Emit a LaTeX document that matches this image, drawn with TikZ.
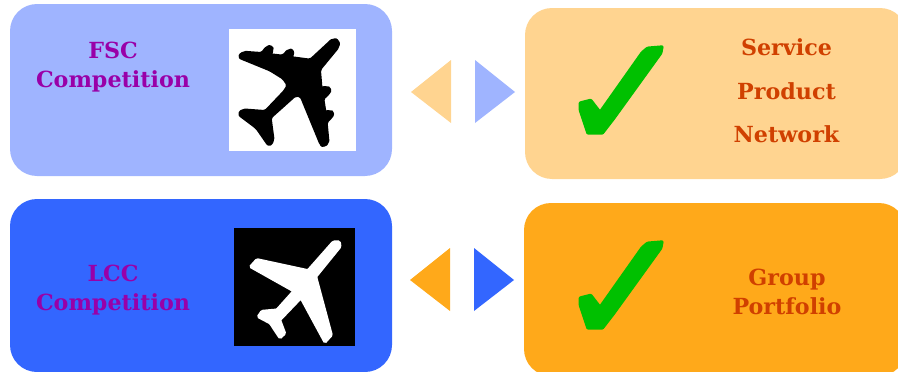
\documentclass[tikz,border=0pt]{standalone}
\usepackage{fontspec}
\setmainfont{DejaVu Serif}
\usetikzlibrary{positioning}
\definecolor{fscblue}{HTML}{9FB4FF}
\definecolor{lccblue}{HTML}{3366FF}
\definecolor{paleorange}{HTML}{FFD490}
\definecolor{deeporange}{HTML}{FFA91A}
\definecolor{compurple}{HTML}{9900A8}
\definecolor{gainred}{HTML}{D04000}
\definecolor{tickgreen}{HTML}{00C000}
\begin{document}
\begin{tikzpicture}[x=1pt,y=-1pt,
   panel/.style={rounded corners=27pt,minimum width=382pt,inner sep=0pt},
   rivals/.style={text=compurple,font=\fontsize{22.2}{29}\selectfont\bfseries,align=center},
   gains/.style={text=gainred,font=\fontsize{22.2}{43.5}\selectfont\bfseries,align=center},
   photo/.style={inner sep=0pt}]
  \useasboundingbox (0,0) rectangle (898,372);
  \node[panel,fill=fscblue,minimum height=172pt] (fsc) at (201,90) {};
  \node[panel,fill=paleorange,minimum height=171pt] (fscgain) at (716,93.5) {};
  \node[panel,fill=lccblue,minimum height=173pt] (lcc) at (201,285.5) {};
  \node[panel,fill=deeporange,minimum height=173pt] (lccgain) at (715,289.5) {};
  \node[rivals] (fsclabel) at (113,67.5) {FSC\\Competition};
  \node[rivals] (lcclabel) at (113,290.5) {LCC\\Competition};
  \node[gains] (fsclist) at (786.5,91) {Service\\Product\\Network};
  \node[gains,font=\fontsize{22.2}{29}\selectfont\bfseries] (lcclist) at (787,292) {Group\\Portfolio};
  \node[photo,fill=white,minimum width=127pt,minimum height=122pt] (fscphoto) at (292.5,90) {};
  \node[photo,fill=black,minimum width=121pt,minimum height=118pt] (lccphoto) at (294.5,287) {};
  % the arrows between the panels
  \fill[paleorange] (411,92) -- (451,60) -- (451,123) -- cycle;
  \fill[fscblue] (515,92) -- (475,60) -- (475,123) -- cycle;
  \fill[deeporange] (410,280) -- (450,248) -- (450,311) -- cycle;
  \fill[lccblue] (514,280) -- (474,248) -- (474,311) -- cycle;
  % planes
  \begin{scope}[shift={(220,20)},x=0.3333pt,y=-0.3333pt]
    \filldraw[black,line width=4.5pt,line join=round,rounded corners=2pt] (340,60) -- (354,64) -- (352,80) -- (296,148) -- (301,207)
      -- (320,204) -- (329,208) -- (325,218) -- (306,235) -- (313,279) -- (330,276) -- (338,280)
      -- (332,290) -- (316,305) -- (322,368) -- (310,375) -- (305,372) -- (245,226) -- (225,223)
      -- (148,292) -- (157,360) -- (148,374) -- (112,322) -- (59,282) -- (70,272) -- (137,277)
      -- (197,214) -- (207,195) -- (192,173) -- (152,148) -- (59,110) -- (72,99) -- (127,103)
      -- (142,83) -- (153,81) -- (155,90) -- (147,106) -- (190,111) -- (207,92) -- (217,93)
      -- (212,115) -- (272,123) -- cycle;
  \end{scope}
  \begin{scope}[shift={(225,220)},x=0.3333pt,y=-0.3333pt]
    \filldraw[white,line width=3pt,line join=miter,rounded corners=1pt] (325,66) -- (343,66) -- (345,80) -- (272,170) -- (319,345)
      -- (300,366) -- (228,233) -- (164,300) -- (179,340) -- (165,353) -- (136,309) -- (100,290)
      -- (111,274) -- (156,270) -- (207,213) -- (77,140) -- (96,119) -- (249,152) -- cycle;
  \end{scope}
  % ticks
  \foreach \tickx/\ticky in {560/30,560/225}
    \filldraw[tickgreen,line width=1.5pt,line join=round,shift={(\tickx,\ticky)},x=0.3333pt,y=-0.3333pt,rounded corners=1pt] (58,217) -- (93,208) -- (120,243)
      -- (245,66) -- (262,52) -- (309,48) -- (305,70) -- (162,268) -- (128,312) -- (82,312) -- (58,240) -- cycle;
\end{tikzpicture}
\end{document}
